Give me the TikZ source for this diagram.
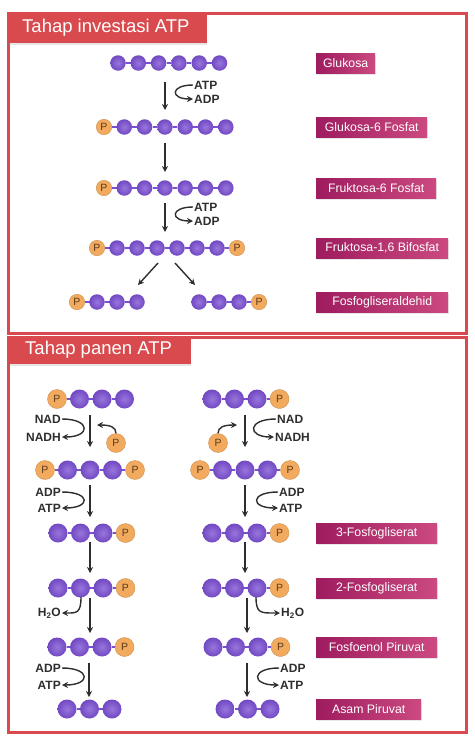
\documentclass[tikz,border=0pt]{standalone}
\usepackage{fontspec}
\setmainfont{Liberation Sans}
\usetikzlibrary{arrows.meta,shadows}

\definecolor{ungu}{HTML}{7B4FD3}
\definecolor{oranye}{HTML}{F2AA5E}
\definecolor{coklat}{HTML}{5A3A1C}
\definecolor{merah}{HTML}{D84A4E}
\definecolor{magtua}{HTML}{9E1C5F}
\definecolor{magmuda}{HTML}{CC4A80}
\definecolor{gelap}{HTML}{2E2E2E}

\tikzset{
	karbon/.style={circle, inner sep=0pt, minimum size=\ukuran, shading=radial, inner color=ungu!78!white, outer color=ungu!92!black},
	fosfat/.style={circle, inner sep=0pt, minimum size=\ukuran, fill=oranye, draw=oranye!85!black, line width=0.4pt,
		label={[text=coklat, font=\fontsize{10.5}{10.5}\selectfont]center:P}},
	ikatan/.style={draw=ungu, line width=1.3pt},
	panah/.style={-{Stealth[length=6pt,width=6pt]}, draw=gelap, line width=1.4pt},
	zat/.style={font=\fontsize{12}{12}\bfseries\selectfont, text=gelap, inner sep=1pt},
	keterangan/.style={anchor=west, minimum height=20, inner xsep=0pt, text=white, font=\fontsize{12.3}{12.3}\selectfont,
		left color=magtua, right color=magmuda, drop shadow={opacity=0.18, shadow xshift=1pt, shadow yshift=-1.5pt}},
	bingkai/.style={draw=merah, line width=3pt},
	judul/.style={anchor=west, text=white, inner sep=0pt, font=\fontsize{18.5}{18.5}\selectfont}
}

% satu molekul: nama, x awal, y, daftar gugus
\newcommand{\molekul}[4]{%
	\foreach \jenis [count=\i, remember=\i as \j (initially 0)] in {#4} {
		\node[\jenis] (#1-\i) at ({#2+(\i-1)*\jarak}, #3) {};
		\ifnum\i>1 \draw[ikatan] (#1-\j) -- (#1-\i); \fi
	}%
}

\begin{document}
\begin{tikzpicture}[x=1pt, y=-1pt]
	\useasboundingbox (0,0) rectangle (474,744);
	
	% bingkai
	\draw[bingkai] (8,13) rectangle (466,333);
	\draw[bingkai] (8,337) rectangle (466,732);
	\fill[merah, drop shadow={opacity=0.2, shadow xshift=0pt, shadow yshift=-1.5pt}] (6.5,11.5) rectangle (207,43);
	\fill[merah, drop shadow={opacity=0.2, shadow xshift=0pt, shadow yshift=-1.5pt}] (6.5,335.5) rectangle (191,364);
	\node[judul] (judul1) at (22,28) {Tahap investasi ATP};
	\node[judul] (judul2) at (25,350) {Tahap panen ATP};
	
	% tahap investasi
	\def\ukuran{15.5}
	\def\jarak{20.3}
	\molekul{glu}{118}{63}{karbon,karbon,karbon,karbon,karbon,karbon}
	\molekul{g6f}{104}{127}{fosfat,karbon,karbon,karbon,karbon,karbon,karbon}
	\molekul{f6f}{104}{188}{fosfat,karbon,karbon,karbon,karbon,karbon,karbon}
	\def\jarak{20}
	\molekul{fbf}{97}{248}{fosfat,karbon,karbon,karbon,karbon,karbon,karbon,fosfat}
	\molekul{gal}{77}{302}{fosfat,karbon,karbon,karbon}
	\molekul{gar}{199}{302}{karbon,karbon,karbon,fosfat}
	
	\foreach \n/\xa/\ya/\xb/\yb in {t1/165/82/165/110, t2/165/143/165/172, t3/165/203/165/232, s1/158/263/138/285, s2/175/263/195/285} {
		\coordinate (\n-a) at (\xa,\ya);
		\coordinate (\n-b) at (\xb,\yb);
		\draw[panah] (\n-a) -- (\n-b);
	}
	
	\node[zat, anchor=west] (atp1) at (193,85) {ATP};
	\node[zat, anchor=west] (adp1) at (193,99) {ADP};
	\draw[panah] (atp1.west) .. controls (170,85) and (170,99) .. (adp1.west);
	\node[zat, anchor=west] (atp2) at (193,207) {ATP};
	\node[zat, anchor=west] (adp2) at (193,221) {ADP};
	\draw[panah] (atp2.west) .. controls (170,207) and (170,221) .. (adp2.west);
	
	% tahap panen
	\def\ukuran{19}
	\def\jarak{22.5}
	\molekul{L1}{57}{399}{fosfat,karbon,karbon,karbon}
	\molekul{L2}{45}{470}{fosfat,karbon,karbon,karbon,fosfat}
	\molekul{L3}{58}{533}{karbon,karbon,karbon,fosfat}
	\molekul{L4}{58}{588}{karbon,karbon,karbon,fosfat}
	\molekul{L5}{57}{647}{karbon,karbon,karbon,fosfat}
	\molekul{L6}{67}{709}{karbon,karbon,karbon}
	\molekul{R1}{212}{399}{karbon,karbon,karbon,fosfat}
	\molekul{R2}{200}{470}{fosfat,karbon,karbon,karbon,fosfat}
	\molekul{R3}{212}{533}{karbon,karbon,karbon,fosfat}
	\molekul{R4}{212}{588}{karbon,karbon,karbon,fosfat}
	\molekul{R5}{213}{647}{karbon,karbon,karbon,fosfat}
	\molekul{R6}{225}{709}{karbon,karbon,karbon}
	
	\foreach \n/\x/\ya/\yb in {a1/90/415/447, a2/90/485/517, a3/90/542/573, a4/90/598/633, a5/89/663/697,
		b1/245/415/447, b2/245/485/517, b3/245/542/573, b4/247/598/633, b5/247/663/697} {
		\coordinate (\n-a) at (\x,\ya);
		\coordinate (\n-b) at (\x,\yb);
		\draw[panah] (\n-a) -- (\n-b);
	}
	
	% NAD dan P bebas
	\node[zat, anchor=east] (nadL) at (62,419) {NAD};
	\node[zat, anchor=east] (nadhL) at (62,437) {NADH};
	\draw[panah] (nadL.east) .. controls (91,419) and (91,437) .. (nadhL.east);
	\node[fosfat] (pL) at (116,443) {};
	\coordinate (pL-t) at (97,425);
	\draw[panah] (pL.north) .. controls (116,427) and (110,425) .. (pL-t);
	
	\node[zat, anchor=west] (nadR) at (276,419) {NAD};
	\node[zat, anchor=west] (nadhR) at (274,437) {NADH};
	\draw[panah] (nadR.west) .. controls (247,419) and (247,437) .. (nadhR.west);
	\node[fosfat] (pR) at (218,443) {};
	\coordinate (pR-t) at (237,425);
	\draw[panah] (pR.north) .. controls (218,427) and (224,425) .. (pR-t);
	
	% ADP -> ATP
	\node[zat, anchor=east] (adpL1) at (62,492) {ADP};
	\node[zat, anchor=east] (atpL1) at (62,508) {ATP};
	\draw[panah] (adpL1.east) .. controls (91,492) and (91,508) .. (atpL1.east);
	\node[zat, anchor=west] (adpR1) at (278,492) {ADP};
	\node[zat, anchor=west] (atpR1) at (278,508) {ATP};
	\draw[panah] (adpR1.west) .. controls (250,492) and (250,508) .. (atpR1.west);
	\node[zat, anchor=east] (adpL2) at (62,668) {ADP};
	\node[zat, anchor=east] (atpL2) at (62,685) {ATP};
	\draw[panah] (adpL2.east) .. controls (91,668) and (91,685) .. (atpL2.east);
	\node[zat, anchor=west] (adpR2) at (279,668) {ADP};
	\node[zat, anchor=west] (atpR2) at (279,685) {ATP};
	\draw[panah] (adpR2.west) .. controls (251,668) and (251,685) .. (atpR2.west);
	
	% H2O
	\node[zat, anchor=east] (h2oL) at (62,613) {H\textsubscript{2}O};
	\coordinate (hL) at (81,597);
	\draw[panah] (hL) .. controls (81,614) and (76,613) .. (h2oL.east);
	\node[zat, anchor=west] (h2oR) at (280,613) {H\textsubscript{2}O};
	\coordinate (hR) at (256,597);
	\draw[panah] (hR) .. controls (256,614) and (261,613) .. (h2oR.west);
	
	% nama senyawa
	\foreach \n/\y/\w/\teks in {k1/63/59/Glukosa, k2/127/111/Glukosa-6 Fosfat, k3/188/120/Fruktosa-6 Fosfat,
		k4/248/132/{Fruktosa-1,6 Bifosfat}, k5/302/132/Fosfogliseraldehid, k6/533/121/3-Fosfogliserat,
		k7/588/121/2-Fosfogliserat, k8/647/121/Fosfoenol Piruvat, k9/709/105/Asam Piruvat} {
		\node[keterangan, minimum width=\w] (\n) at (316,\y) {\teks};
	}
\end{tikzpicture}
\end{document}
